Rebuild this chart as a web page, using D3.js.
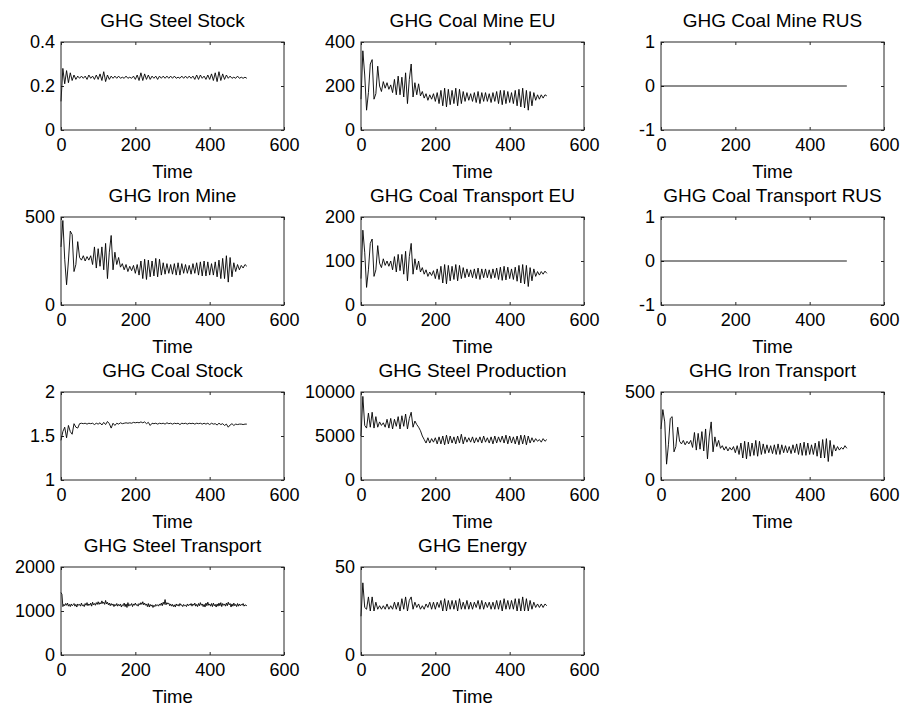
<!DOCTYPE html>
<html>
<head>
<meta charset="utf-8">
<script src="https://cdn.jsdelivr.net/npm/d3@7"></script>
<style>
  html, body { margin: 0; padding: 0; background: #fff; }
  svg { display: block; }
  text { font-family: "Liberation Sans", Arial, sans-serif; fill: #000; }
</style>
</head>
<body>
<div id="chart"></div>
<script>
// subplot titles, in row-major order
const titles = [
  'GHG Steel Stock', 'GHG Coal Mine EU', 'GHG Coal Mine RUS',
  'GHG Iron Mine', 'GHG Coal Transport EU', 'GHG Coal Transport RUS',
  'GHG Coal Stock', 'GHG Steel Production', 'GHG Iron Transport',
  'GHG Steel Transport', 'GHG Energy'
];

const xTicks = [0, 200, 400, 600];

const yDomains = [
  [0, 0.4], [0, 400], [-1, 1],
  [0, 500], [0, 200], [-1, 1],
  [1, 2], [0, 10000], [0, 500],
  [0, 2000], [0, 50]
];

const yTicks = [
  [0, 0.2, 0.4], [0, 200, 400], [-1, 0, 1],
  [0, 500], [0, 100, 200], [-1, 0, 1],
  [1, 1.5, 2], [0, 5000, 10000], [0, 500],
  [0, 1000, 2000], [0, 50]
];

// sampled every 5 time units, t = 0 .. 500
const steelStock = [
  0.13, 0.28, 0.21, 0.27, 0.215, 0.26, 0.225, 0.25, 0.23, 0.245,
  0.235, 0.245, 0.235, 0.245, 0.23, 0.25, 0.235, 0.245, 0.23, 0.25,
  0.23, 0.255, 0.225, 0.265, 0.22, 0.25, 0.23, 0.245, 0.235, 0.245,
  0.235, 0.245, 0.235, 0.24, 0.235, 0.245, 0.235, 0.24, 0.235, 0.245,
  0.23, 0.25, 0.225, 0.26, 0.225, 0.255, 0.23, 0.25, 0.23, 0.245,
  0.235, 0.245, 0.23, 0.245, 0.235, 0.245, 0.235, 0.245, 0.235, 0.245,
  0.235, 0.245, 0.235, 0.24, 0.235, 0.245, 0.235, 0.245, 0.235, 0.245,
  0.235, 0.245, 0.23, 0.25, 0.23, 0.25, 0.235, 0.245, 0.23, 0.25,
  0.23, 0.255, 0.225, 0.26, 0.22, 0.265, 0.225, 0.255, 0.23, 0.25,
  0.235, 0.245, 0.235, 0.24, 0.235, 0.245, 0.235, 0.24, 0.235, 0.24,
  0.235
];

const coalMineEU = [
  140, 360, 250, 90, 170, 300, 320, 140, 165, 290,
  200, 175, 220, 190, 215, 185, 205, 170, 230, 160,
  245, 160, 240, 150, 260, 120, 230, 300, 150, 215,
  160, 210, 155, 175, 145, 165, 135, 160, 140, 165,
  130, 170, 120, 180, 110, 190, 105, 185, 115, 180,
  120, 190, 110, 185, 120, 175, 130, 170, 135, 165,
  130, 170, 125, 175, 120, 170, 130, 170, 130, 165,
  125, 170, 130, 175, 120, 180, 115, 180, 120, 175,
  125, 170, 120, 180, 110, 185, 105, 190, 100, 180,
  90, 175, 110, 170, 135, 160, 140, 160, 145, 160,
  155
];

const ironMine = [
  330, 480, 260, 115, 250, 420, 400, 190, 230, 360,
  270, 255, 280, 250, 275, 255, 280, 230, 330, 210,
  320, 220, 330, 200, 350, 150, 300, 395, 200, 300,
  230, 270, 215, 235, 200, 230, 190, 220, 195, 225,
  180, 230, 170, 250, 150, 260, 145, 255, 160, 250,
  165, 265, 160, 260, 170, 240, 175, 235, 180, 230,
  175, 235, 170, 240, 170, 235, 180, 230, 180, 225,
  175, 235, 180, 240, 170, 245, 165, 250, 165, 245,
  170, 235, 170, 245, 160, 255, 150, 265, 150, 280,
  130, 270, 160, 240, 190, 230, 200, 225, 210, 230,
  220
];

const coalTransportEU = [
  60, 170, 120, 40, 80, 140, 150, 65, 80, 135,
  95, 85, 105, 90, 100, 88, 100, 80, 110, 75,
  115, 78, 115, 70, 122, 55, 110, 140, 70, 105,
  80, 100, 75, 85, 70, 80, 65, 75, 67, 78,
  60, 82, 58, 88, 50, 92, 48, 90, 55, 88,
  58, 92, 55, 90, 60, 85, 62, 82, 64, 80,
  62, 82, 60, 84, 58, 82, 62, 82, 62, 80,
  60, 82, 62, 84, 58, 86, 56, 88, 57, 86,
  60, 82, 58, 86, 54, 90, 50, 92, 48, 90,
  42, 85, 55, 82, 65, 76, 68, 76, 70, 77,
  72
];

const coalStock = [
  1.45, 1.55, 1.6, 1.48, 1.62, 1.55, 1.52, 1.64, 1.6, 1.59,
  1.64, 1.645, 1.64, 1.645, 1.635, 1.645, 1.64, 1.645, 1.63, 1.645,
  1.635, 1.65, 1.625, 1.655, 1.63, 1.665, 1.64, 1.59, 1.645, 1.62,
  1.645, 1.635, 1.65, 1.64, 1.645, 1.65, 1.645, 1.65, 1.645, 1.655,
  1.65, 1.655, 1.65, 1.66, 1.65, 1.66, 1.64, 1.655, 1.62, 1.645,
  1.64, 1.645, 1.635, 1.645, 1.64, 1.645, 1.635, 1.65, 1.64, 1.645,
  1.635, 1.645, 1.64, 1.645, 1.63, 1.645, 1.64, 1.645, 1.635, 1.645,
  1.64, 1.645, 1.635, 1.645, 1.64, 1.645, 1.635, 1.645, 1.635, 1.645,
  1.63, 1.645, 1.635, 1.64, 1.625, 1.645, 1.63, 1.64, 1.62, 1.635,
  1.6, 1.625, 1.64, 1.62, 1.635, 1.63, 1.635, 1.635, 1.63, 1.635,
  1.635
];

const steelProduction = [
  5000, 9500, 6200, 5900, 7600, 6000, 7700, 5900, 7200, 6000,
  6600, 6200, 6500, 6000, 6900, 5900, 7000, 5800, 6900, 6100,
  7200, 5800, 7300, 6100, 7500, 5800, 7000, 7700, 6000, 6700,
  6300, 6000, 5600, 5000, 4600, 4200, 4800, 4200, 4700, 4300,
  4800, 4100, 4900, 4100, 5000, 4000, 5100, 4100, 5000, 4200,
  4900, 4100, 5000, 4200, 5200, 4100, 4900, 4300, 4800, 4300,
  4900, 4200, 4800, 4300, 4900, 4200, 5000, 4300, 4800, 4200,
  4900, 4100, 5000, 4200, 4900, 4300, 5000, 4200, 5100, 4100,
  5000, 4200, 4900, 4100, 5000, 4000, 5100, 4100, 5100, 4000,
  5000, 4200, 4800, 4300, 4700, 4400, 4600, 4300, 4700, 4400,
  4600
];

const ironTransport = [
  290, 400, 330, 90, 200, 350, 360, 160, 190, 300,
  220, 205, 225, 200, 220, 205, 225, 185, 270, 170,
  265, 175, 275, 165, 290, 120, 250, 330, 160, 245,
  190, 225, 180, 195, 170, 190, 165, 185, 170, 190,
  155, 195, 145, 210, 125, 220, 120, 215, 135, 210,
  140, 225, 135, 220, 145, 205, 150, 200, 155, 195,
  150, 200, 145, 205, 145, 200, 155, 195, 155, 190,
  150, 200, 155, 205, 145, 210, 140, 215, 140, 210,
  145, 200, 145, 210, 135, 220, 125, 230, 125, 235,
  105, 225, 135, 200, 165, 190, 170, 185, 175, 195,
  180
];

// noisier series, sampled every 2.5 time units
const steelTransport = [
  1420, 1380, 1100, 1150, 1120, 1170, 1130, 1180, 1110, 1150,
  1100, 1160, 1120, 1140, 1170, 1110, 1150, 1090, 1160, 1130,
  1150, 1110, 1180, 1120, 1140, 1100, 1170, 1130, 1190, 1120,
  1160, 1130, 1180, 1110, 1200, 1140, 1170, 1130, 1190, 1150,
  1210, 1150, 1190, 1160, 1230, 1170, 1200, 1150, 1240, 1160,
  1200, 1140, 1180, 1120, 1170, 1130, 1160, 1100, 1150, 1120,
  1170, 1110, 1150, 1120, 1160, 1090, 1140, 1120, 1180, 1100,
  1160, 1080, 1190, 1110, 1150, 1130, 1170, 1100, 1160, 1130,
  1180, 1130, 1150, 1110, 1170, 1140, 1190, 1150, 1210, 1140,
  1180, 1130, 1160, 1100, 1170, 1090, 1150, 1110, 1140, 1080,
  1130, 1100, 1150, 1120, 1140, 1110, 1160, 1130, 1180, 1120,
  1200, 1150, 1260, 1140, 1190, 1160, 1180, 1120, 1160, 1110,
  1150, 1100, 1140, 1090, 1160, 1120, 1150, 1110, 1170, 1130,
  1140, 1100, 1150, 1120, 1130, 1100, 1160, 1120, 1150, 1130,
  1170, 1110, 1160, 1130, 1180, 1110, 1150, 1100, 1170, 1120,
  1190, 1130, 1160, 1100, 1150, 1090, 1180, 1120, 1200, 1130,
  1160, 1110, 1170, 1100, 1180, 1120, 1150, 1090, 1160, 1110,
  1180, 1120, 1190, 1100, 1170, 1130, 1160, 1110, 1180, 1120,
  1200, 1140, 1170, 1090, 1160, 1110, 1180, 1120, 1150, 1100,
  1170, 1110, 1160, 1120, 1150, 1130, 1170, 1110, 1140, 1130,
  1120
];

const energy = [
  22, 41, 27, 26, 33, 25, 33, 25, 30, 26,
  28, 26, 28, 26, 29, 26, 28, 26, 30, 26,
  30, 25, 32, 26, 33, 25, 31, 33, 26, 30,
  27, 29, 26, 28, 26, 29, 27, 30, 26, 30,
  26, 30, 27, 31, 25, 32, 25, 31, 26, 31,
  26, 31, 25, 32, 26, 30, 26, 31, 26, 30,
  26, 30, 27, 31, 26, 31, 26, 30, 27, 30,
  26, 30, 26, 31, 26, 31, 25, 32, 26, 31,
  26, 31, 26, 32, 25, 32, 25, 33, 25, 32,
  25, 31, 26, 30, 27, 29, 27, 29, 27, 29,
  28
];

// the RUS series stay at zero over the whole run
const coalMineRUS = [0, 0];
const coalTransportRUS = [0, 0];

const STEP = 5;
const FINE_STEP = 2.5;
const RUS_STEP = 500;

const series = [
  { values: steelStock, step: STEP },
  { values: coalMineEU, step: STEP },
  { values: coalMineRUS, step: RUS_STEP },
  { values: ironMine, step: STEP },
  { values: coalTransportEU, step: STEP },
  { values: coalTransportRUS, step: RUS_STEP },
  { values: coalStock, step: STEP },
  { values: steelProduction, step: STEP },
  { values: ironTransport, step: STEP },
  { values: steelTransport, step: FINE_STEP },
  { values: energy, step: STEP }
];

// layout (matches the figure grid)
const width = 904, height = 708;
const colLeft = [61, 361, 661];
const rowTop = [42, 217, 392, 567];
const plotW = 223, plotH = 88;
const tickLen = 3;
const axisColor = '#262626';

const svg = d3.select('#chart').append('svg')
  .attr('width', width)
  .attr('height', height);

const fmt = d => String(d);

titles.forEach((title, i) => {
  const col = i % 3, row = Math.floor(i / 3);
  const g = svg.append('g')
    .attr('transform', `translate(${colLeft[col]}, ${rowTop[row]})`);

  const x = d3.scaleLinear().domain([0, 600]).range([0, plotW]);
  const y = d3.scaleLinear().domain(yDomains[i]).range([plotH, 0]);

  // bottom axis with labels, inward ticks
  g.append('g')
    .attr('transform', `translate(0, ${plotH})`)
    .call(d3.axisBottom(x).tickValues(xTicks).tickFormat(fmt)
      .tickSizeInner(-tickLen).tickSizeOuter(0).tickPadding(8))
    .call(a => a.selectAll('text').style('font-size', '18px'));

  // left axis with labels
  g.append('g')
    .call(d3.axisLeft(y).tickValues(yTicks[i]).tickFormat(fmt)
      .tickSizeInner(-tickLen).tickSizeOuter(0).tickPadding(6))
    .call(a => a.selectAll('text').style('font-size', '18px'));

  // mirrored ticks on top and right
  g.append('g')
    .call(d3.axisTop(x).tickValues(xTicks).tickFormat('')
      .tickSizeInner(-tickLen).tickSizeOuter(0));
  g.append('g')
    .attr('transform', `translate(${plotW}, 0)`)
    .call(d3.axisRight(y).tickValues(yTicks[i]).tickFormat('')
      .tickSizeInner(-tickLen).tickSizeOuter(0));

  g.selectAll('.domain').remove();
  g.selectAll('.tick line').attr('stroke', axisColor);

  // data line
  const s = series[i];
  const line = d3.line()
    .x((d, k) => x(k * s.step))
    .y(d => y(d));

  g.append('path')
    .datum(s.values)
    .attr('fill', 'none')
    .attr('stroke', '#000')
    .attr('stroke-width', 0.9)
    .attr('stroke-linejoin', 'round')
    .attr('d', line);

  // axes box
  g.append('rect')
    .attr('x', 0).attr('y', 0)
    .attr('width', plotW).attr('height', plotH)
    .attr('fill', 'none')
    .attr('stroke', axisColor)
    .attr('stroke-width', 1);

  // title
  g.append('text')
    .attr('x', plotW / 2)
    .attr('y', -15)
    .attr('text-anchor', 'middle')
    .style('font-size', '19px')
    .text(title);

  // x label
  g.append('text')
    .attr('x', plotW / 2)
    .attr('y', plotH + 48)
    .attr('text-anchor', 'middle')
    .style('font-size', '18.5px')
    .text('Time');
});
</script>
</body>
</html>
